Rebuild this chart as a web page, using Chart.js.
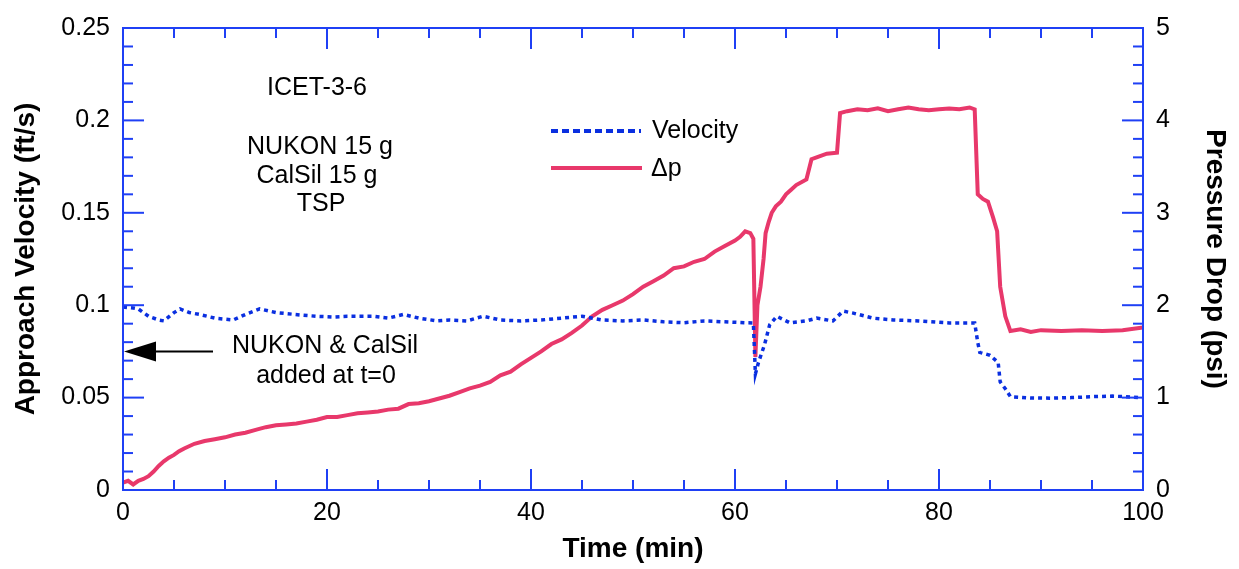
<!DOCTYPE html>
<html>
<head>
<meta charset="utf-8">
<script src="https://cdn.jsdelivr.net/npm/chart.js@4.4.0/dist/chart.umd.min.js"></script>
<style>
  html, body { margin: 0; padding: 0; background: #fff; }
</style>
</head>
<body>
<canvas id="chart" width="1239" height="569"></canvas>
<script>
// Velocity (ft/s), left axis
const velTime = [0, 1, 1.5, 2.5, 3.5, 4, 5, 5.6, 6.5, 7.5, 9, 10.8, 12, 13.4, 15, 17.4, 19, 20.6, 22, 24.5,
  26, 27.5, 29, 30.8, 32, 33.7, 35.3, 37, 39, 41, 43, 45, 47, 49, 51, 53, 55, 57, 59, 61, 61.8,
  62, 62.3, 62.9, 63.4, 64.1, 65.4, 67, 68, 69.6, 70.6, 71.6, 73.5, 75.5, 78, 81, 83.5,
  83.8, 84, 85, 85.8, 86, 86.5, 87, 89, 91, 93, 95, 97, 99, 100];
const velocity = [0.099, 0.0985, 0.098, 0.094, 0.092, 0.0915, 0.096, 0.098, 0.096, 0.095, 0.093, 0.092, 0.095, 0.098, 0.096, 0.0947, 0.094, 0.0936, 0.094, 0.094,
  0.093, 0.095, 0.093, 0.0915, 0.092, 0.0915, 0.094, 0.092, 0.0915, 0.092, 0.093, 0.094, 0.092, 0.0915, 0.092, 0.091, 0.0905, 0.0915, 0.091, 0.0905, 0.0904,
  0.0628, 0.069, 0.0787, 0.0894, 0.094, 0.0904, 0.0915, 0.093, 0.0915, 0.0968, 0.0957, 0.093, 0.092, 0.0915, 0.0904, 0.0904,
  0.0798, 0.0745, 0.0729, 0.069, 0.0585, 0.0548, 0.0505, 0.0498, 0.0497, 0.05, 0.0505, 0.0508, 0.0503, 0.0498];

// Pressure drop (psi), right axis
const dpTime = [0, 0.5, 1, 1.5, 2, 2.5, 3, 3.5, 4, 4.5, 5, 5.5, 6, 7, 8, 9, 10, 11, 12, 13, 14, 15, 16, 17, 18, 19, 20,
  21, 22, 23, 24, 25, 26, 27, 28, 29, 30, 31, 32, 33, 34, 35, 36, 37, 38, 39, 40, 41, 42, 43, 44, 45, 46, 47, 48, 49, 50,
  51, 52, 53, 54, 55, 56, 57, 58, 59, 60, 60.5, 61, 61.5, 61.8, 62, 62.2, 62.5, 62.8, 63, 63.3, 63.6, 64, 64.5, 65, 65.5,
  66, 67, 67.5, 68, 69, 70, 70.3, 71, 72, 73, 74, 75, 76, 77, 78, 79, 80, 81, 82, 83, 83.5,
  83.8, 84.3, 84.8, 85.3, 85.7, 86, 86.5, 87, 88, 89, 90, 92, 94, 96, 98, 100];
const dpPsi = [0.08, 0.1, 0.06, 0.1, 0.12, 0.15, 0.2, 0.26, 0.31, 0.35, 0.38, 0.42, 0.45, 0.5, 0.53, 0.55, 0.57, 0.6, 0.62, 0.65, 0.68, 0.7, 0.71, 0.72, 0.74, 0.76, 0.79,
  0.79, 0.81, 0.83, 0.84, 0.85, 0.87, 0.88, 0.93, 0.94, 0.96, 0.99, 1.02, 1.06, 1.1, 1.13, 1.17, 1.24, 1.28, 1.36, 1.43, 1.5, 1.58, 1.63, 1.7, 1.78, 1.88, 1.95, 2.0, 2.05, 2.12,
  2.2, 2.26, 2.32, 2.4, 2.42, 2.47, 2.5, 2.58, 2.64, 2.7, 2.74, 2.8, 2.78, 2.72, 1.44, 2.0, 2.2, 2.5, 2.78, 2.9, 3.0, 3.07, 3.12, 3.2, 3.25,
  3.3, 3.36, 3.58, 3.6, 3.64, 3.65, 4.08, 4.1, 4.12, 4.11, 4.13, 4.1, 4.12, 4.14, 4.12, 4.11, 4.12, 4.13, 4.12, 4.14, 4.12,
  3.2, 3.15, 3.12, 2.95, 2.8, 2.2, 1.88, 1.72, 1.74, 1.71, 1.73, 1.72, 1.73, 1.72, 1.73, 1.76];

const timeTicks = [0, 20, 40, 60, 80, 100];
const velTicks = [0, 0.05, 0.1, 0.15, 0.2, 0.25];
const dpTicks = [0, 1, 2, 3, 4, 5];

const AXIS_BLUE = '#1f40f5';
const VEL_BLUE = '#0a2fe0';
const DP_PINK = '#e8386b';
const FONT = "'Liberation Sans', Arial, Helvetica, sans-serif";
const TICK_FONT = { family: FONT, size: 25 };
const TITLE_FONT = { family: FONT, size: 28, weight: 'bold' };

const toPoints = (xs, ys) => xs.map((x, i) => ({ x: x, y: ys[i] }));

const frameAndNotes = {
  id: 'frameAndNotes',
  afterDatasetsDraw(chart) {
    const { ctx, chartArea: a, scales } = chart;
    const line = (x1, y1, x2, y2) => {
      ctx.beginPath(); ctx.moveTo(x1, y1); ctx.lineTo(x2, y2); ctx.stroke();
    };
    ctx.save();
    ctx.strokeStyle = AXIS_BLUE;
    ctx.lineWidth = 2;
    ctx.strokeRect(a.left, a.top, a.right - a.left, a.bottom - a.top);

    // inward ticks, time axis (top and bottom)
    for (let t = 0; t <= 100; t += 5) {
      const x = scales.x.getPixelForValue(t);
      const len = t % 20 === 0 ? 21 : 10;
      line(x, a.bottom, x, a.bottom - len);
      line(x, a.top, x, a.top + len);
    }
    // left axis ticks
    for (let i = 0; i <= 25; i++) {
      const y = scales.y.getPixelForValue(i * 0.01);
      line(a.left, y, a.left + (i % 5 === 0 ? 21 : 10), y);
    }
    // right axis ticks
    for (let i = 0; i <= 25; i++) {
      const y = scales.y2.getPixelForValue(i * 0.2);
      line(a.right, y, a.right - (i % 5 === 0 ? 21 : 10), y);
    }

    // annotation text
    ctx.fillStyle = '#000';
    ctx.font = '25px ' + FONT;
    ctx.textAlign = 'center';
    ctx.textBaseline = 'middle';
    ctx.fillText('ICET-3-6', 317, 88);
    ctx.fillText('NUKON 15 g', 320, 147);
    ctx.fillText('CalSil 15 g', 317, 176);
    ctx.fillText('TSP', 321, 204);
    ctx.fillText('NUKON & CalSil', 325, 346);
    ctx.fillText('added at t=0', 326, 376);

    // arrow pointing at t=0
    const tipX = scales.x.getPixelForValue(0) + 1;
    const tipY = scales.y.getPixelForValue(0.075);
    ctx.strokeStyle = '#000';
    ctx.lineWidth = 2;
    line(213, tipY, tipX + 25, tipY);
    ctx.beginPath();
    ctx.moveTo(tipX, tipY);
    ctx.lineTo(tipX + 32, tipY - 10);
    ctx.lineTo(tipX + 32, tipY + 10);
    ctx.closePath();
    ctx.fill();

    // legend
    ctx.lineWidth = 4;
    ctx.strokeStyle = VEL_BLUE;
    ctx.setLineDash([7, 4]);
    line(551, 131, 641, 131);
    ctx.setLineDash([]);
    ctx.strokeStyle = DP_PINK;
    line(551, 168, 642, 168);
    ctx.textAlign = 'left';
    ctx.fillText('Velocity', 652, 131);
    ctx.fillText('\u0394p', 651, 169);
    ctx.restore();
  }
};

new Chart(document.getElementById('chart'), {
  type: 'line',
  data: {
    datasets: [{
      label: 'Velocity',
      data: toPoints(velTime, velocity),
      yAxisID: 'y',
      borderColor: VEL_BLUE,
      borderWidth: 3.5,
      borderDash: [4, 4],
      pointRadius: 0,
      tension: 0
    }, {
      label: '\u0394p',
      data: toPoints(dpTime, dpPsi),
      yAxisID: 'y2',
      borderColor: DP_PINK,
      borderWidth: 4,
      pointRadius: 0,
      tension: 0
    }]
  },
  options: {
    responsive: false,
    animation: false,
    layout: { padding: { top: 20, left: 0, right: 0, bottom: 0 } },
    plugins: { legend: { display: false }, tooltip: { enabled: false } },
    scales: {
      x: {
        type: 'linear', min: 0, max: 100,
        afterBuildTicks: s => { s.ticks = timeTicks.map(v => ({ value: v })); },
        afterFit: s => { s.height = 79; },
        grid: { display: false, drawTicks: false },
        border: { display: false },
        ticks: { color: '#000', font: TICK_FONT, padding: 8, maxRotation: 0 },
        title: { display: true, text: 'Time (min)', color: '#000', font: TITLE_FONT, padding: { top: 0, bottom: 3 } }
      },
      y: {
        position: 'left', min: 0, max: 0.25,
        afterBuildTicks: s => { s.ticks = velTicks.map(v => ({ value: v })); },
        afterFit: s => { s.width = 123; },
        grid: { display: false, drawTicks: false },
        border: { display: false },
        ticks: { color: '#000', font: TICK_FONT, padding: 13, callback: v => String(+v.toFixed(2)) },
        title: { display: true, text: 'Approach Velocity (ft/s)', color: '#000', font: TITLE_FONT, padding: { top: 9, bottom: 0 } }
      },
      y2: {
        position: 'right', min: 0, max: 5,
        afterBuildTicks: s => { s.ticks = dpTicks.map(v => ({ value: v })); },
        afterFit: s => { s.width = 96; },
        grid: { display: false, drawTicks: false },
        border: { display: false },
        ticks: { color: '#000', font: TICK_FONT, padding: 13, callback: v => String(v) },
        title: { display: true, text: 'Pressure Drop (psi)', color: '#000', font: TITLE_FONT, padding: { top: 7, bottom: 0 } }
      }
    }
  },
  plugins: [frameAndNotes]
});
</script>
</body>
</html>
